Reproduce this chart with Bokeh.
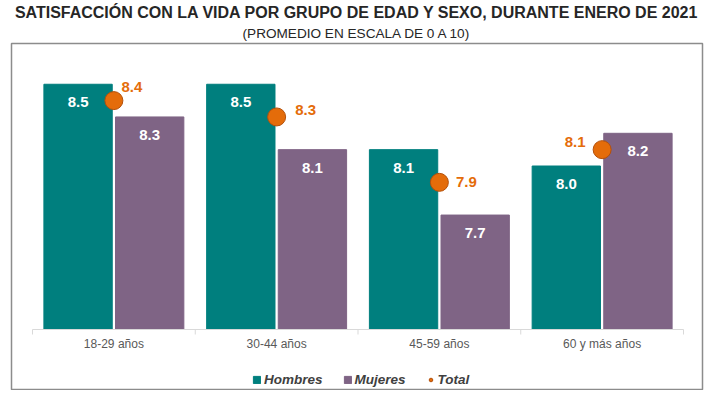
import math
from bokeh.plotting import figure
from bokeh.models import (ColumnDataSource, Range1d, Legend, LegendItem, Title)
from bokeh.core.properties import value
from bokeh.embed import file_html
from bokeh.resources import INLINE

# ---- data ----
categories = ["18-29 años", "30-44 años", "45-59 años", "60 y más años"]
hombres = [8.5, 8.5, 8.1, 8.0]
mujeres = [8.3, 8.1, 7.7, 8.2]
total = [8.4, 8.3, 7.9, 8.1]

title_text = "SATISFACCIÓN CON LA VIDA POR GRUPO DE EDAD Y SEXO, DURANTE ENERO DE 2021"
subtitle_text = "(PROMEDIO EN ESCALA DE 0 A 10)"

# ---- style ----
TEAL = "#007F7E"
PURPLE = "#7F6485"
ORANGE = "#E46C0A"
FONT = "Liberation Sans"
BASE = 7.0          # value at the category axis line

idx = list(range(len(categories)))
x_h = [i + 0.28 for i in idx]
x_m = [i + 0.72 for i in idx]
x_t = [i + 0.5 for i in idx]
x_c = [i + 0.5 for i in idx]
x_b = [float(i) for i in range(len(categories) + 1)]

# label placement offsets (screen px) for the Total labels
tot_dx = [18, 29, 27, -27]
tot_dy = [-14, -7, 0, -8]

src_h = ColumnDataSource(dict(x=x_h, v=hombres, lab=[f"{v:.1f}" for v in hombres]))
src_m = ColumnDataSource(dict(x=x_m, v=mujeres, lab=[f"{v:.1f}" for v in mujeres]))
src_t = ColumnDataSource(dict(x=x_t, v=total, lab=[f"{v:.1f}" for v in total],
                              dx=tot_dx, dy=tot_dy))

PX = 162.75   # px per category
PY = 163.5    # px per unit
p = figure(width=709, height=390,
           x_range=Range1d(-21 / PX, 4 + 19 / PX),
           y_range=Range1d(BASE - 60 / PY, BASE + 286 / PY),
           output_backend="svg", toolbar_location=None,
           min_border_left=11, min_border_right=7, min_border_top=43, min_border_bottom=1,
           x_axis_location=None, y_axis_location=None,
           outline_line_color="#8C8C8C", outline_line_width=1.5)
p.xgrid.visible = False
p.ygrid.visible = False

rh = p.vbar(x="x", top="v", bottom=BASE, width=0.42, source=src_h,
            fill_color=TEAL, line_color=TEAL)
rm = p.vbar(x="x", top="v", bottom=BASE, width=0.42, source=src_m,
            fill_color=PURPLE, line_color=PURPLE)

for s in (src_h, src_m):
    p.text(x="x", y="v", text="lab", source=s, text_align="center", text_baseline="middle",
           y_offset=18, text_color="white", text_font=value(FONT),
           text_font_style="bold", text_font_size="15px")

rt = p.scatter(x="x", y="v", source=src_t, size=18, fill_color=ORANGE,
               line_color="#B4500A", line_width=1)
p.text(x="x", y="v", text="lab", source=src_t, x_offset="dx", y_offset="dy",
       text_align="center", text_baseline="middle", text_color=ORANGE,
       text_font=value(FONT), text_font_style="bold", text_font_size="15px")

# category axis: line, boundary ticks and labels
p.segment(x0=[x_b[0]], y0=[BASE], x1=[x_b[-1]], y1=[BASE], line_color="#D9D9D9", line_width=1)
p.ray(x=x_b, y=[BASE] * len(x_b), length=5, length_units="screen", angle=-math.pi / 2,
      line_color="#D9D9D9", line_width=1)
p.text(x=x_c, y=[BASE] * len(x_c), text=categories, text_align="center",
       text_baseline="middle", y_offset=14, text_color="#595959",
       text_font=value(FONT), text_font_size="12px")

legend = Legend(items=[LegendItem(label="Hombres", renderers=[rh]),
                       LegendItem(label="Mujeres", renderers=[rm]),
                       LegendItem(label="Total", renderers=[rt])],
                orientation="horizontal", location=(241, 2),
                label_text_font=FONT, label_text_font_style="bold italic",
                label_text_font_size="13.5px", label_text_color="#404040",
                glyph_width=9, glyph_height=9, label_standoff=3, spacing=20,
                border_line_color=None, background_fill_alpha=0, margin=0, padding=3)
p.add_layout(legend)

# titles
p.add_layout(Title(text=subtitle_text, align="center", text_font=FONT,
                   text_font_size="13.6px", text_font_style="normal",
                   text_color="#262626", standoff=6), "above")
p.add_layout(Title(text=title_text, align="center", text_font=FONT,
                   text_font_size="16px", text_font_style="bold",
                   text_color="#262626", standoff=0), "above")

open("out.html", "w").write(file_html(p, INLINE))
